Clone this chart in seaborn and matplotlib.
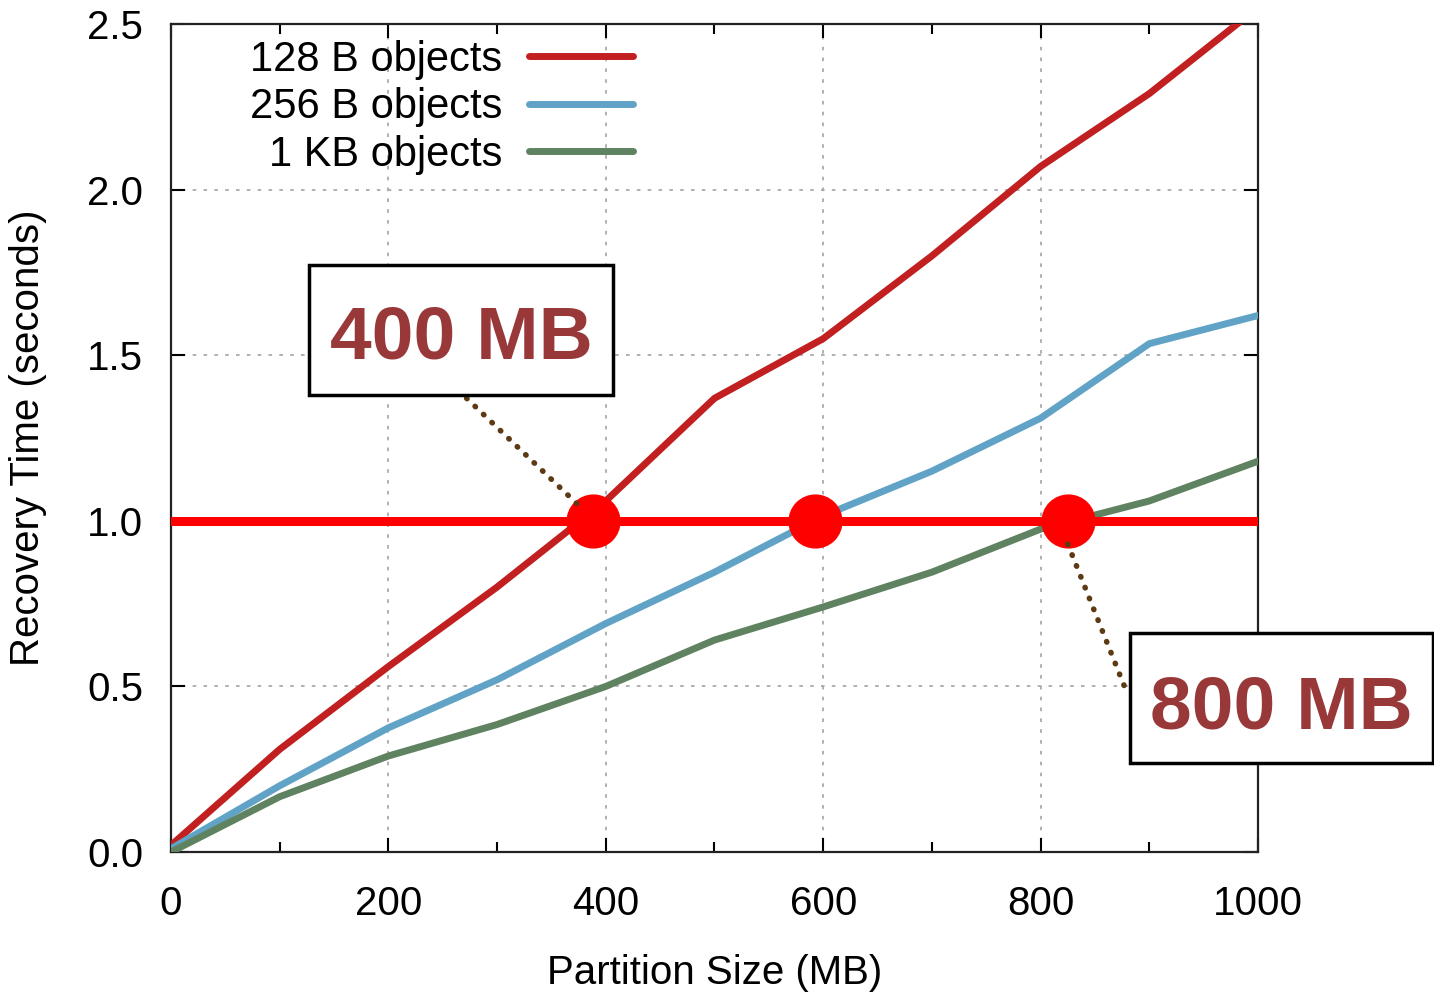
import numpy as np
import pandas as pd
import matplotlib
matplotlib.use("Agg")
import matplotlib.pyplot as plt
from matplotlib.patches import Rectangle
import seaborn as sns

# ---- data ----
partition_mb = [0, 100, 200, 300, 400, 500, 600, 700, 800, 900, 1000]
t_128b = [0.02, 0.31, 0.56, 0.80, 1.06, 1.37, 1.55, 1.80, 2.07, 2.29, 2.55]
t_256b = [0.01, 0.20, 0.375, 0.52, 0.69, 0.845, 1.015, 1.15, 1.31, 1.535, 1.62]
t_1kb = [0.00, 0.167, 0.29, 0.385, 0.50, 0.64, 0.74, 0.845, 0.975, 1.06, 1.18]
series_names = ["128 B objects", "256 B objects", "1 KB objects"]
threshold = 1.0
crossings_mb = [388, 592, 825]
callouts = ["400 MB", "800 MB"]

df = pd.DataFrame({
    "Partition Size (MB)": partition_mb * 3,
    "Recovery Time (seconds)": t_128b + t_256b + t_1kb,
    "series": sum([[n] * len(partition_mb) for n in series_names], []),
})

sns.set_theme(style="ticks")
plt.rcParams["font.family"] = ["Liberation Sans", "DejaVu Sans"]
plt.rcParams["text.color"] = "black"
plt.rcParams["axes.labelcolor"] = "black"

fig = plt.figure(figsize=(14.34, 9.97), dpi=100)
ax = fig.add_axes([0.1192, 0.1454, 0.7581, 0.8305])

palette = {"128 B objects": "#c11f20", "256 B objects": "#60a3c6", "1 KB objects": "#5f8260"}
sns.lineplot(data=df, x="Partition Size (MB)", y="Recovery Time (seconds)", hue="series",
             palette=palette, linewidth=5, ax=ax, zorder=3)

ax.set_xlim(0, 1000)
ax.set_ylim(0, 2.5)
ax.set_xticks([0, 200, 400, 600, 800, 1000])
ax.set_xticks([100, 300, 500, 700, 900], minor=True)
ax.set_yticks([0, 0.5, 1.0, 1.5, 2.0, 2.5])
ax.set_yticklabels(["0.0", "0.5", "1.0", "1.5", "2.0", "2.5"])
ax.tick_params(which="both", direction="in", top=True, right=True, width=1.5,
               labelsize=29, colors="black", labelcolor="black")
ax.tick_params(which="major", length=10)
ax.tick_params(which="minor", length=7)
ax.tick_params(axis="x", pad=24)
ax.tick_params(axis="y", pad=20)
for s in ax.spines.values():
    s.set_linewidth(1.6)
    s.set_color("#222222")
ax.grid(True, which="major", linestyle=(0, (2, 4)), color="#aaaaaa", linewidth=1.3)
ax.set_axisbelow(True)

ax.set_xlabel("Partition Size (MB)", fontsize=29, labelpad=22, color="black")
ax.set_ylabel("Recovery Time (seconds)", fontsize=29, labelpad=29, color="black")

# threshold line and crossing points
ax.axhline(threshold, color="#ff0000", linewidth=6.5, zorder=4)
ax.plot(crossings_mb, [threshold] * len(crossings_mb), "o", color="#ff0000",
        markersize=38, zorder=5, clip_on=False)

# callouts
ax.plot([272, 374], [1.37, 1.05], linestyle=(0, (0.1, 2.0)), dash_capstyle="round",
        color="#5c3a14", linewidth=4, zorder=6)
ax.plot([825, 880], [0.93, 0.476], linestyle=(0, (0.1, 2.0)), dash_capstyle="round",
        color="#5c3a14", linewidth=4, zorder=6, clip_on=False)

ax.add_patch(Rectangle((127, 1.380), 279.6, 0.392, facecolor="white", edgecolor="black",
                       linewidth=2.5, zorder=7))
ax.add_patch(Rectangle((882.2, 0.269), 278.5, 0.392, facecolor="white", edgecolor="black",
                       linewidth=2.5, zorder=7, clip_on=False))
ax.text(266.8, 1.491, callouts[0], fontsize=54, fontweight="bold", color="#983838",
        ha="center", va="baseline", zorder=8)
ax.text(1021, 0.374, callouts[1], fontsize=54, fontweight="bold", color="#983838",
        ha="center", va="baseline", zorder=8, clip_on=False)

leg = ax.legend(loc="upper left", bbox_to_anchor=(0.058, 1.0), frameon=False, fontsize=30,
                markerfirst=False, handlelength=2.5, handletextpad=0.65,
                labelspacing=0.18, borderaxespad=0.0, borderpad=0.38)
for t in leg.get_texts():
    t.set_ha("right")
    t.set_color("black")
leg._legend_box.align = "right"
for h in leg.get_lines():
    h.set_linewidth(5)

fig.savefig("out.png", dpi=100)
